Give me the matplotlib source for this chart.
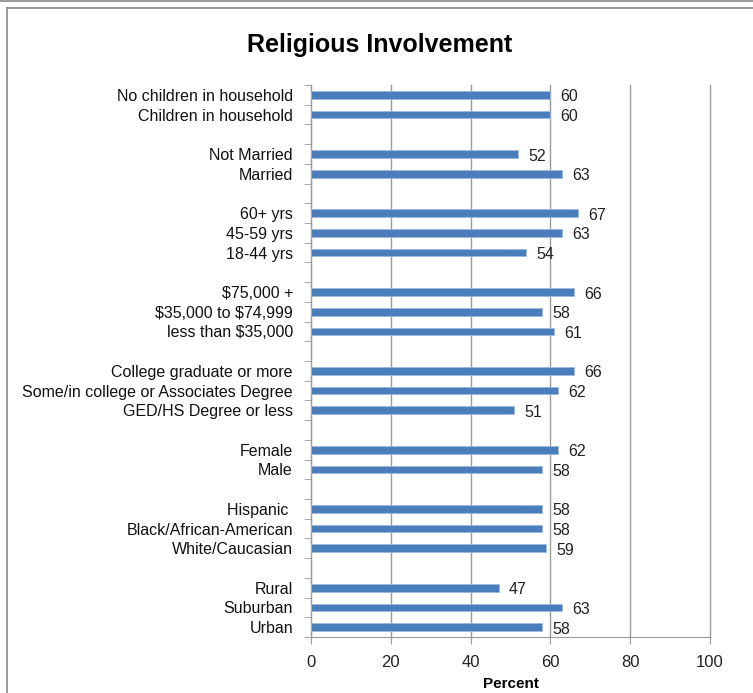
import matplotlib
matplotlib.use("Agg")
import matplotlib.pyplot as plt
from matplotlib.lines import Line2D

plt.rcParams['text.parse_math'] = False
plt.rcParams['font.family'] = ['Liberation Sans', 'DejaVu Sans']

# --- data, top to bottom, one list per group
group_labels = [
    ["No children in household", "Children in household"],
    ["Not Married", "Married"],
    ["60+ yrs", "45-59 yrs", "18-44 yrs"],
    ["$75,000 +", "$35,000 to $74,999", "less than $35,000"],
    ["College graduate or more", "Some/in college or Associates Degree", "GED/HS Degree or less"],
    ["Female", "Male"],
    ["Hispanic ", "Black/African-American", "White/Caucasian"],
    ["Rural", "Suburban", "Urban"],
]
group_values = [
    [60, 60],
    [52, 63],
    [67, 63, 54],
    [66, 58, 61],
    [66, 62, 51],
    [62, 58],
    [58, 58, 59],
    [47, 63, 58],
]

# slot positions, one empty slot between groups
labels, values, pos = [], [], []
slot = 0
for labs, vals in zip(group_labels, group_values):
    for l, v in zip(labs, vals):
        labels.append(l)
        values.append(v)
        pos.append(slot)
        slot += 1
    slot += 1
n_slots = slot - 1

bar_color = '#4A7EBB'
grid_color = '#9A9A9A'

fig = plt.figure(figsize=(7.53, 6.93), dpi=100)
ax = fig.add_axes([311/753, 1 - 637/693, (710-311)/753, (637-85)/693])

ax.barh(pos, values, height=0.39, color=bar_color,
        edgecolor='#9DB9DE', linewidth=0.6, zorder=3)
for p, v in zip(pos, values):
    ax.annotate(str(v), (v, p), xytext=(7, -1.5), textcoords='offset points',
                ha='left', va='center', fontsize=11.5, color='#222222')

ax.set_xlim(0, 100)
ax.set_ylim(n_slots - 0.5, -0.5)
ax.set_xticks(range(0, 101, 20))
ax.xaxis.grid(True, color=grid_color, linewidth=1.0, zorder=0)
for gl in ax.get_xgridlines():
    gl.set_clip_on(False)

ax.set_yticks(pos, labels)
ax.set_yticks([p - 0.5 for p in range(n_slots + 1)], minor=True)
ax.tick_params(axis='y', which='major', length=0, pad=13, labelsize=11.5, labelcolor='#111111')
ax.tick_params(axis='y', which='minor', length=5, color=grid_color, direction='out')
ax.tick_params(axis='x', length=5, color=grid_color, labelsize=12, pad=8, labelcolor='#222222')

for s in ['top', 'right']:
    ax.spines[s].set_visible(False)
for s in ['left', 'bottom']:
    ax.spines[s].set_color(grid_color)

ax.set_xlabel('Percent', fontsize=11, fontweight='bold', labelpad=5)

fig.text(380/753, 1 - 45/693, 'Religious Involvement', ha='center', va='center',
         fontsize=18, fontweight='bold')

# chart frame
fig.add_artist(Line2D([7/753, 7/753], [0, 1 - 8/693], color='#8A8A8A', lw=1.2))
fig.add_artist(Line2D([7/753, 1], [1 - 8/693, 1 - 8/693], color='#8A8A8A', lw=1.2))
fig.add_artist(Line2D([0, 1], [1 - 1/693, 1 - 1/693], color='#8A8A8A', lw=1.2))

fig.savefig('out.png', dpi=100)
